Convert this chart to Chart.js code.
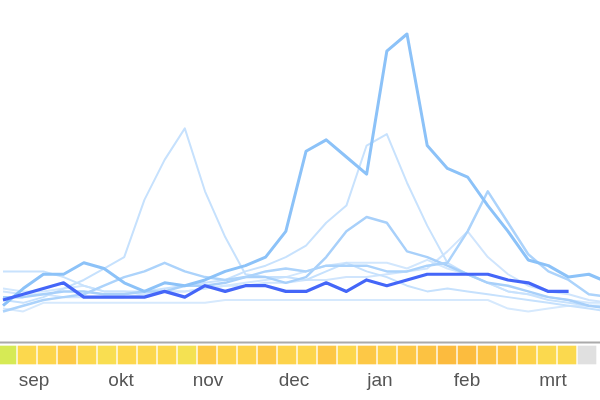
<!DOCTYPE html>
<html>
<head>
<meta charset="utf-8">
<script src="https://cdn.jsdelivr.net/npm/chart.js@4.4.1/dist/chart.umd.min.js"></script>
<style>
  html, body { margin: 0; padding: 0; background: #fff; }
  #wrap { width: 600px; height: 400px; position: relative; }
</style>
</head>
<body>
<div id="wrap"><canvas id="trendChart"></canvas></div>
<script>
// Weekly interest per search term (0-100), sep .. mrt
var weeks = [];
for (var i = 0; i <= 30; i++) weeks.push(i);

var mainSeries   = [7, 9, 11, 13, 8, 8, 8, 8, 10, 8, 12, 10, 12, 12, 10, 10, 13, 10, 14, 12, 14, 16, 16, 16, 16, 14, 13, 10, 10, null, null];
var peakSeries   = [5, 11, 16, 16, 20, 18, 13, 10, 13, 12, 14, 17, 19, 22, 31, 59, 63, 57, 51, 94, 100, 61, 53, 50, 40, 31, 21, 19, 15, 16, 13];
var febSeries    = [3, 5, 7, 8, 9, 12, 15, 17, 20, 17, 15, 14, 15, 17, 18, 17, 19, 19, 19, 17, 17, 19, 20, 31, 45, 34, 23, 17, 14, 9, 8];
var novSeries    = [7, 6, 8, 11, 14, 18, 22, 42, 56, 67, 45, 29, 16, 15, 15, 14, 17, 20, 17, 15, 12, 10, 11, 10, 9, 8, 7, 6, 5, 4, 3];
var janSeries    = [17, 17, 17, 15, 12, 10, 10, 10, 11, 12, 13, 14, 17, 19, 22, 26, 34, 40, 61, 65, 48, 33, 20, 16, 13, 10, 9, 7, 6, 5, 5];
var humpSeries   = [8, 8, 9, 10, 10, 9, 9, 10, 10, 12, 12, 13, 15, 15, 13, 15, 22, 31, 36, 34, 24, 22, 19, 16, 13, 12, 10, 8, 7, 5, 4];
var flatSeries   = [11, 10, 10, 11, 12, 10, 10, 9, 10, 10, 11, 12, 13, 14, 15, 17, 19, 20, 20, 20, 18, 21, 18, 16, 13, 10, 9, 8, 7, 6, 6];
var lowSeries    = [4, 3, 6, 6, 6, 6, 6, 6, 6, 6, 6, 7, 7, 7, 7, 7, 7, 7, 7, 7, 7, 7, 7, 7, 7, 4, 3, 4, 5, 5, 5];
var smallSeries  = [10, 9, 9, 8, 8, 8, 8, 9, 10, 10, 11, 12, 12, 13, 13, 14, 14, 15, 15, 16, 17, 18, 24, 31, 22, 16, 12, 10, 9, 7, 6];

// heat row: one cell per week (0 = low .. 1 = high, null = no data)
var cellValues = [0, 0.45, 0.52, 0.74, 0.44, 0.3, 0.48, 0.47, 0.45, 0.22, 0.74, 0.55, 0.58, 0.76, 0.55,
                  0.52, 0.78, 0.5, 0.76, 0.64, 0.78, 0.88, 1, 0.99, 0.88, 0.82, 0.58, 0.42, 0.42, null];

var monthLabels = ["sep", "okt", "nov", "dec", "jan", "feb", "mrt"];
var monthWeeks  = [1.35, 5.7, 10.05, 14.35, 18.65, 23, 27.3];

function cellColor(v) {
    if (v === null) return '#e0e0e0';
    var stops = [[0, 214, 234, 85], [0.25, 248, 224, 82], [0.5, 253, 214, 76], [0.75, 253, 201, 70], [1, 252, 187, 62]];
    for (var i = 1; i < stops.length; i++) {
        if (v <= stops[i][0]) {
            var a = stops[i - 1], b = stops[i];
            var t = (v - a[0]) / (b[0] - a[0]);
            return 'rgb(' + Math.round(a[1] + (b[1] - a[1]) * t) + ',' +
                            Math.round(a[2] + (b[2] - a[2]) * t) + ',' +
                            Math.round(a[3] + (b[3] - a[3]) * t) + ')';
        }
    }
    return 'rgb(252,187,62)';
}

function lineSet(data, color, width) {
    return {
        type: 'line',
        data: data.map(function (v, i) { return { x: weeks[i], y: v }; }),
        borderColor: color,
        borderWidth: width,
        pointRadius: 0,
        tension: 0,
        borderJoinStyle: 'round',
        xAxisID: 'x',
        yAxisID: 'y'
    };
}

var cellSet = {
    type: 'bar',
    data: cellValues.map(function (v, i) { return { x: weeks[i], y: [0, 1] }; }),
    backgroundColor: cellValues.map(cellColor),
    borderWidth: 0,
    barThickness: 18,
    grouped: false,
    xAxisID: 'x2',
    yAxisID: 'y2'
};

// thin grey rule above the heat row
var separator = {
    id: 'separator',
    beforeDatasetsDraw: function (chart) {
        var ctx = chart.ctx;
        var y = chart.scales.y2.getPixelForValue(1.194);
        ctx.save();
        ctx.strokeStyle = '#aaaaaa';
        ctx.lineWidth = 2;
        ctx.beginPath();
        ctx.moveTo(chart.chartArea.left, y);
        ctx.lineTo(chart.chartArea.right, y);
        ctx.stroke();
        ctx.restore();
    }
};

var ctx = document.getElementById('trendChart');
var myChart = new Chart(ctx, {
    data: {
        datasets: [
            lineSet(mainSeries, '#4466f8', 3.2),
            lineSet(peakSeries, '#8cc2f8', 3),
            lineSet(febSeries, '#acd3fb', 2.5),
            lineSet(humpSeries, '#a8d0fa', 2.5),
            lineSet(novSeries, '#c6e1fd', 2),
            lineSet(janSeries, '#c8e2fd', 2),
            lineSet(flatSeries, '#d2e7fd', 2),
            lineSet(smallSeries, '#d0e5fd', 2),
            lineSet(lowSeries, '#d6e9fd', 2),
            cellSet
        ]
    },
    options: {
        responsive: true,
        maintainAspectRatio: false,
        animation: false,
        layout: { padding: 0 },
        plugins: { legend: { display: false }, tooltip: { enabled: false } },
        scales: {
            x: { type: 'linear', display: false, offset: false, min: -0.1485, max: 29.554 },
            x2: {
                type: 'linear', position: 'bottom', offset: false, min: -0.35, max: 29.65,
                grid: { display: false, offset: false }, border: { display: false },
                afterBuildTicks: function (axis) {
                    axis.ticks = monthWeeks.map(function (v) { return { value: v }; });
                },
                afterFit: function (axis) { axis.height = 34; },
                ticks: {
                    autoSkip: false, maxRotation: 0, padding: -5, color: '#555',
                    font: { family: "'Liberation Sans', Arial, sans-serif", size: 19 },
                    callback: function (value, index) { return monthLabels[index]; }
                }
            },
            y: { display: false, min: -16.08, max: 111.89 },
            y2: { display: false, min: -0.111, max: 20.222 }
        }
    },
    plugins: [separator]
});
</script>
</body>
</html>
